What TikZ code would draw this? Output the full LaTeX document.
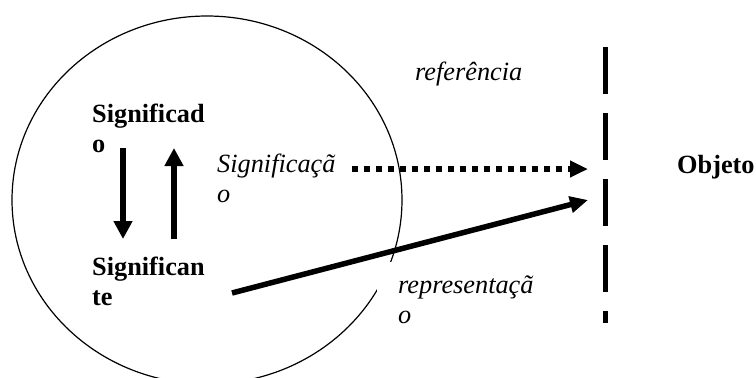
\documentclass[tikz,border=0pt]{standalone}
\usepackage{fontspec}
\setmainfont{Liberation Serif}
\usetikzlibrary{arrows.meta}
\begin{document}
\begin{tikzpicture}[x=1pt,y=-1pt,
  lbl/.style={inner sep=0pt, anchor=base west, align=left},
  blbl/.style={lbl, font=\fontsize{26.3}{30}\selectfont\bfseries},
  ilbl/.style={lbl, font=\fontsize{26.3}{30}\selectfont\itshape},
  ring/.style={line width=1.2pt},
  varrow/.style={line width=6pt, -{Triangle[length=18pt,width=18pt]}},
  thickarrow/.style={line width=5.5pt, -{Triangle[length=18pt,width=16pt]}},
  dotarrow/.style={line width=5.5pt, dash pattern=on 6pt off 6pt, -{Triangle[length=18pt,width=16pt]}},
  barrier/.style={line width=5pt, dash pattern=on 47pt off 19pt}]
\useasboundingbox (0,0) rectangle (756,378);
% circle
\draw[ring] (207,200) ellipse [x radius=195, y radius=184];
% white cover behind the "representacao" text box
\fill[white] (377,262) rectangle (550,340);
% texts (multi-line nodes: base anchor is the last line's baseline)
\node[blbl] (sdo) at (92,152) {Significad\\o};
\node[blbl] (ste) at (92,305) {Significan\\te};
\node[ilbl] (sca) at (217,202) {Significaçã\\o};
\node[ilbl] (ref) at (415,80) {referência};
\node[ilbl] (rep) at (398,323) {representaçã\\o};
\node[blbl] (obj) at (677,173) {Objeto};
% connector end points
\coordinate (dA) at (123,148);
\coordinate (dB) at (123,239);
\coordinate (uA) at (174,239);
\coordinate (uB) at (174,148);
\coordinate (dotS) at (352,169);
\coordinate (dotE) at (588,169);
\coordinate (repS) at (232,293);
\coordinate (repE) at (588,200);
\coordinate (barT) at (605,47);
\coordinate (barB) at (605,323);
% arrows
\draw[varrow] (dA) -- (dB);
\draw[varrow] (uA) -- (uB);
\draw[dotarrow] (dotS) -- (dotE);
\draw[thickarrow] (repS) -- (repE);
\draw[barrier] (barT) -- (barB);
\end{tikzpicture}
\end{document}
